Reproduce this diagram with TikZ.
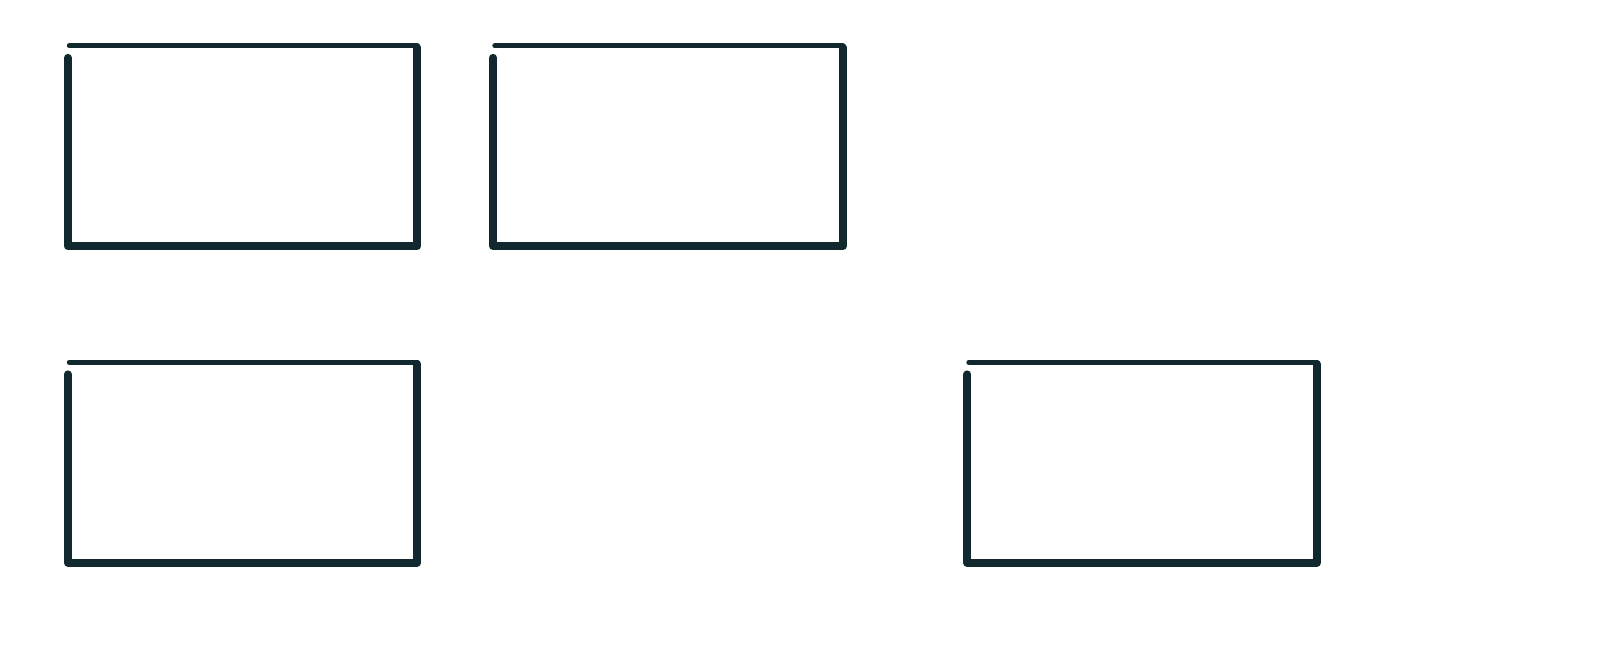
\documentclass[tikz,border=0pt]{standalone}
\definecolor{ink}{HTML}{11292E}
\tikzset{
  boxarea/.style={minimum width=349pt, minimum height=200pt, inner sep=0pt, draw=none},
  topedge/.style={draw=ink, line width=5pt, line cap=round},
  restedge/.style={draw=ink, line width=7.8pt, line cap=round, line join=round}
}
\newcommand{\sketchbox}[1]{%
  \draw[topedge] ([xshift=1.5pt]#1.north west) -- (#1.north east);
  \draw[restedge] ([yshift=-1.6pt]#1.north east) -- (#1.south east) -- (#1.south west) -- ([yshift=-12pt]#1.north west);
}
\begin{document}
\begin{tikzpicture}[x=1pt,y=-1pt]
  \useasboundingbox[fill=white] (0,0) rectangle (1600,663);
  \node[boxarea] (b1) at (242.5,146) {};
  \node[boxarea] (b2) at (668,146) {};
  \node[boxarea] (b3) at (242.5,462.5) {};
  \node[boxarea] (b4) at (1142,462.5) {};
  \sketchbox{b1}
  \sketchbox{b2}
  \sketchbox{b3}
  \sketchbox{b4}
\end{tikzpicture}
\end{document}
